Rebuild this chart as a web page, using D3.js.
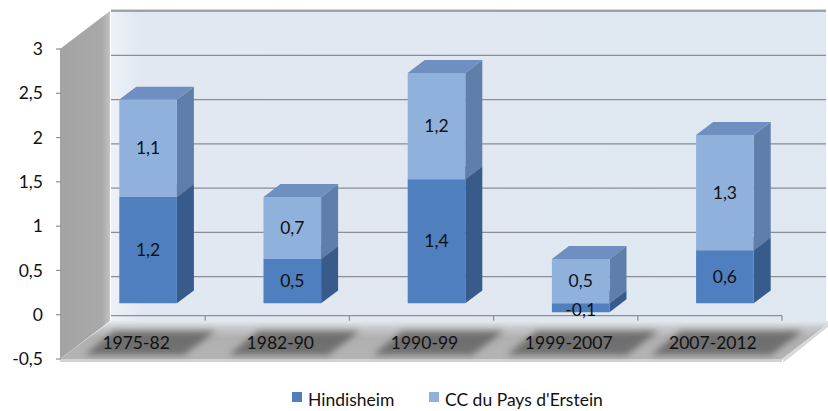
<!DOCTYPE html>
<html lang="fr">
<head>
<meta charset="UTF-8"/>
<title>Hindisheim / CC du Pays d'Erstein</title>
<script src="https://d3js.org/d3.v7.min.js"></script>
<style>
  body { margin: 0; background: #fff; }
  text { font-family: Lato, "Open Sans", sans-serif; fill: #111; }
</style>
</head>
<body>
<script>
    var w = 828;
    var h = 411;

    // data
    var periods = ["1975-82", "1982-90", "1990-99", "1999-2007", "2007-2012"];
    var hindisheim = [1.2, 0.5, 1.4, -0.1, 0.6];
    var ccErstein = [1.1, 0.7, 1.2, 0.5, 1.3];
    var seriesNames = ["Hindisheim", "CC du Pays d'Erstein"];
    var yTicks = [-0.5, 0, 0.5, 1, 1.5, 2, 2.5, 3];

    // depth of the 3D box (front plane -> back wall)
    var DX = 50, DY = -38;
    var barFront = 0.3, barBack = 0.64;

    var fmt = function (v) { return String(v).replace(".", ","); };

    var xScale = d3.scaleBand().domain(periods).range([61, 782]);
    var yScale = d3.scaleLinear().domain([-0.5, 3]).range([359, 49]);

    function pt(px, v, d) {
        return [px + d * DX, yScale(v) + d * DY];
    }
    function poly(pts) {
        return pts.map(function (p) { return p[0].toFixed(1) + "," + p[1].toFixed(1); }).join(" ");
    }

    var svg = d3.select("body").append("svg")
        .attr("width", w)
        .attr("height", h);

    var defs = svg.append("defs");
    var gWall = defs.append("linearGradient").attr("id", "wall").attr("x1", 0).attr("y1", 0).attr("x2", 1).attr("y2", 0);
    gWall.append("stop").attr("offset", 0).attr("stop-color", "#edf2f8");
    gWall.append("stop").attr("offset", 0.04).attr("stop-color", "#e1e8f2");
    gWall.append("stop").attr("offset", 1).attr("stop-color", "#dfe7f1");

    var gSide = defs.append("linearGradient").attr("id", "side").attr("x1", 0).attr("y1", 0).attr("x2", 1).attr("y2", 0);
    gSide.append("stop").attr("offset", 0).attr("stop-color", "#a3a3a3");
    gSide.append("stop").attr("offset", 0.85).attr("stop-color", "#a9a9a9");
    gSide.append("stop").attr("offset", 1).attr("stop-color", "#c4c4c4");

    var gFloor = defs.append("linearGradient").attr("id", "floor").attr("x1", 0).attr("y1", 0).attr("x2", 0).attr("y2", 1);
    gFloor.append("stop").attr("offset", 0).attr("stop-color", "#e4e8ec");
    gFloor.append("stop").attr("offset", 0.22).attr("stop-color", "#c2c4c6");
    gFloor.append("stop").attr("offset", 0.45).attr("stop-color", "#b0b0b0");
    gFloor.append("stop").attr("offset", 1).attr("stop-color", "#b4b4b4");

    defs.append("filter").attr("id", "blur").attr("x", -0.2).attr("y", -0.5).attr("width", 1.4).attr("height", 2)
        .append("feGaussianBlur").attr("stdDeviation", 3);

    // back wall
    var wallL = pt(61, 3, 1)[0];
    svg.append("polygon")
        .attr("points", poly([pt(61, 3, 1), [826, pt(61, 3, 1)[1]], [826, pt(61, -0.5, 1)[1]], pt(61, -0.5, 1)]))
        .attr("fill", "url(#wall)");
    svg.append("line")
        .attr("x1", wallL).attr("x2", 826)
        .attr("y1", pt(61, 3, 1)[1] - 1).attr("y2", pt(61, 3, 1)[1] - 1)
        .attr("stroke", "#d4d6d9").attr("stroke-width", 2);

    // gridlines on the back wall
    svg.selectAll("line.grid")
        .data(yTicks.filter(function (t) { return t >= 0; }))
        .enter()
        .append("line")
        .attr("class", "grid")
        .attr("x1", wallL).attr("x2", 826)
        .attr("y1", function (t) { return pt(61, t, 1)[1]; })
        .attr("y2", function (t) { return pt(61, t, 1)[1]; })
        .attr("stroke", "#8a8e94")
        .attr("stroke-width", 1.3);

    // left side wall
    svg.append("polygon")
        .attr("points", poly([pt(60, 3, 0), pt(60, 3, 1), pt(60, -0.5, 1), pt(60, -0.5, 0)]))
        .attr("fill", "url(#side)");

    // floor
    svg.append("polygon")
        .attr("points", poly([pt(61, -0.5, 1), [828, pt(61, -0.5, 1)[1]], [782 + DX, pt(61, -0.5, 1)[1]], pt(782, -0.5, 0), pt(60, -0.5, 0)]))
        .attr("fill", "url(#floor)");
    svg.append("polygon")
        .attr("points", poly([pt(60, -0.5, 0), pt(782, -0.5, 0), [782, yScale(-0.5) + 3], [60, yScale(-0.5) + 3]]))
        .attr("fill", "#d3d3d3");
    svg.append("polygon")
        .attr("points", poly([pt(782, -0.5, 0), pt(782, -0.5, 1), [782 + DX + 2, pt(782, -0.5, 1)[1] + 1], [784, yScale(-0.5) + 3]]))
        .attr("fill", "#d8d8d8");

    // category axis line and ticks
    var axisY = yScale(0) + 1;
    svg.append("line")
        .attr("x1", wallL).attr("x2", 782)
        .attr("y1", axisY).attr("y2", axisY)
        .attr("stroke", "#8f8f8f").attr("stroke-width", 1.2);
    svg.selectAll("line.ctick")
        .data(periods)
        .enter()
        .append("line")
        .attr("class", "ctick")
        .attr("x1", function (d) { return xScale(d) + xScale.bandwidth(); })
        .attr("x2", function (d) { return xScale(d) + xScale.bandwidth(); })
        .attr("y1", axisY).attr("y2", axisY + 5)
        .attr("stroke", "#8f8f8f").attr("stroke-width", 1.2);

    // category labels with their floor shadow
    var catG = svg.selectAll("g.cat")
        .data(periods)
        .enter()
        .append("g")
        .attr("class", "cat");
    catG.append("text")
        .attr("class", "lbl")
        .attr("x", function (d) { return xScale(d) + xScale.bandwidth() / 2 + 3; })
        .attr("y", 343)
        .attr("dy", "0.35em")
        .attr("text-anchor", "middle")
        .style("font-size", "17.5px")
        .text(function (d) { return d; });
    catG.each(function () {
        var g = d3.select(this);
        var b = g.select("text").node().getBBox();
        g.insert("polygon", "text")
            .attr("points", poly([[b.x + 12, 331], [b.x + b.width + 46, 331], [b.x + b.width + 14, 355], [b.x - 18, 355]]))
            .attr("fill", "#5a5a5a")
            .attr("opacity", 0.75)
            .attr("filter", "url(#blur)");
    });

    // stacked bars
    var rows = periods.map(function (p, i) {
        return { period: p, hind: hindisheim[i], cc: ccErstein[i] };
    });
    var stack = d3.stack().keys(["hind", "cc"]).offset(d3.stackOffsetDiverging);
    var layers = stack(rows);

    var faceColors = {
        hind: { front: "#4f7fbe", side: "#375c8c", top: "#42699e" },
        cc: { front: "#90b1dc", side: "#5f7eaa", top: "#6f8fc0" }
    };

    var bw = xScale.bandwidth() * 0.4;
    var segs = [];
    periods.forEach(function (p, i) {
        layers.forEach(function (layer) {
            var s = layer[i];
            segs.push({ key: layer.key, period: p, y0: s[0], y1: s[1], value: s.data[layer.key] });
        });
    });
    // draw lower segments first
    segs.sort(function (a, b) { return a.y0 - b.y0; });

    var barG = svg.selectAll("g.seg")
        .data(segs)
        .enter()
        .append("g")
        .attr("class", "seg");

    barG.append("polygon")
        .attr("points", function (d) {
            var xr = xScale(d.period) + xScale.bandwidth() * 0.3 + bw;
            return poly([pt(xr, d.y1, barFront), pt(xr, d.y1, barBack), pt(xr, d.y0, barBack), pt(xr, d.y0, barFront)]);
        })
        .attr("fill", function (d) { return faceColors[d.key].side; });

    barG.append("polygon")
        .attr("points", function (d) {
            var xl = xScale(d.period) + xScale.bandwidth() * 0.3;
            return poly([pt(xl, d.y1, barFront), pt(xl, d.y1, barBack), pt(xl + bw, d.y1, barBack), pt(xl + bw, d.y1, barFront)]);
        })
        .attr("fill", function (d) { return faceColors[d.key].top; });

    barG.append("polygon")
        .attr("points", function (d) {
            var xl = xScale(d.period) + xScale.bandwidth() * 0.3;
            return poly([pt(xl, d.y1, barFront), pt(xl + bw, d.y1, barFront), pt(xl + bw, d.y0, barFront), pt(xl, d.y0, barFront)]);
        })
        .attr("fill", function (d) { return faceColors[d.key].front; });

    // value labels
    svg.selectAll("text.val")
        .data(segs)
        .enter()
        .append("text")
        .attr("class", "val")
        .attr("x", function (d) { return pt(xScale(d.period) + xScale.bandwidth() * 0.3 + bw / 2, 0, barFront)[0]; })
        .attr("y", function (d) {
            var yy = pt(0, (d.y0 + d.y1) / 2, barFront)[1];
            return d.value < 0 ? yy + 2 : yy;
        })
        .attr("dy", "0.35em")
        .attr("text-anchor", "middle")
        .style("font-size", "17.5px")
        .text(function (d) { return fmt(d.value); });

    // value axis ticks and labels
    svg.selectAll("line.ytick")
        .data(yTicks)
        .enter()
        .append("line")
        .attr("class", "ytick")
        .attr("x1", 56).attr("x2", 61)
        .attr("y1", function (t) { return yScale(t); })
        .attr("y2", function (t) { return yScale(t); })
        .attr("stroke", "#8f8f8f").attr("stroke-width", 1.2);
    svg.selectAll("text.ylbl")
        .data(yTicks)
        .enter()
        .append("text")
        .attr("class", "ylbl")
        .attr("x", 43)
        .attr("y", function (t) { return yScale(t); })
        .attr("dy", "0.35em")
        .attr("text-anchor", "end")
        .style("font-size", "17.5px")
        .text(function (t) { return fmt(t); });

    // legend
    var legendX = [292, 429];
    var legendCol = [faceColors.hind.front, faceColors.cc.front];
    var lg = svg.selectAll("g.legend")
        .data(seriesNames)
        .enter()
        .append("g")
        .attr("class", "legend")
        .attr("transform", function (d, i) { return "translate(" + legendX[i] + ",392)"; });
    lg.append("rect")
        .attr("width", 10).attr("height", 10)
        .attr("fill", function (d, i) { return legendCol[i]; });
    lg.append("text")
        .attr("x", 16)
        .attr("y", 14)
        .style("font-size", "17.5px")
        .text(function (d) { return d; });
</script>
</body>
</html>
